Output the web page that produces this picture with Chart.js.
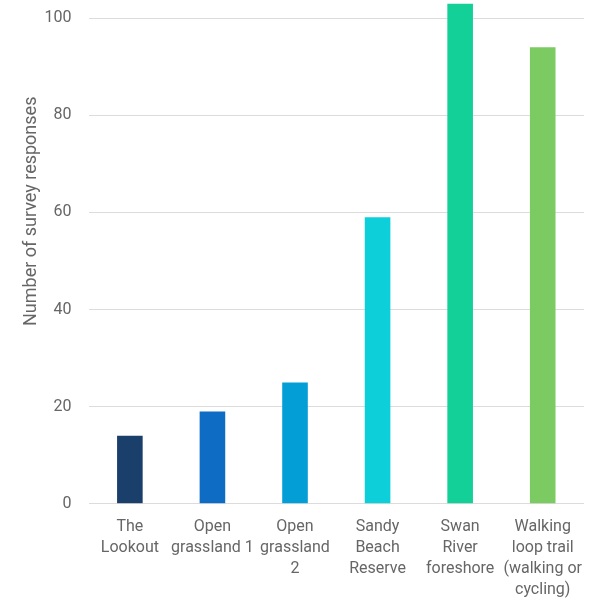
<!DOCTYPE html>
<html>
<head>
<meta charset="utf-8">
<script src="https://cdn.jsdelivr.net/npm/chart.js@4"></script>
<style>
  html, body { margin: 0; padding: 0; background: #fff; }
  #wrap { width: 599px; height: 600px; }
</style>
</head>
<body>
<div id="wrap"><canvas id="grafico"></canvas></div>
<script>
// dati del grafico
const locations = [
  ['The', 'Lookout'],
  ['Open', 'grassland 1'],
  ['Open', 'grassland', '2'],
  ['Sandy', 'Beach', 'Reserve'],
  ['Swan', 'River', 'foreshore'],
  ['Walking', 'loop trail', '(walking or', 'cycling)']
];
const responses = [14, 19, 25, 59, 103, 94];
const barColors = ['#1b3f6b', '#0f6cc4', '#049ed7', '#0ccfda', '#13cf98', '#7cca62'];
const yTicks = [0, 20, 40, 60, 80, 100];
const yTitle = 'Number of survey responses';

new Chart(document.getElementById('grafico'), {
  type: 'bar',
  data: {
    labels: locations,
    datasets: [{
      label: yTitle,
      data: responses,
      backgroundColor: barColors,
      borderWidth: 0,
      categoryPercentage: 1,
      barPercentage: 0.31
    }]
  },
  options: {
    responsive: true,
    maintainAspectRatio: false,
    animation: false,
    layout: { padding: { top: 0, right: 15, left: 21, bottom: -13 } },
    plugins: {
      legend: { display: false },
      tooltip: { enabled: false }
    },
    scales: {
      x: {
        grid: { display: false, drawTicks: false },
        border: { display: false },
        ticks: {
          color: '#666',
          font: { family: 'Roboto', size: 16, lineHeight: 1.3 },
          padding: 13,
          maxRotation: 0,
          autoSkip: false
        }
      },
      y: {
        min: 0,
        max: 103,
        afterBuildTicks: axis => {
          axis.ticks = yTicks.map(v => ({ value: v }));
        },
        // distanza etichette tramite tickLength (il padding aggiunge spazio in alto)
        grid: { color: '#dcdcdc', drawTicks: true, tickLength: 17, tickColor: 'rgba(0,0,0,0)' },
        border: { display: false },
        ticks: {
          color: '#666',
          font: { family: 'Roboto', size: 16, lineHeight: 0.45 },
          padding: 0
        },
        title: {
          display: true,
          // spazi iniziali per spostare il titolo verso l'alto
          text: ' '.repeat(19) + yTitle,
          color: '#666',
          font: { family: 'Roboto', size: 18 },
          padding: { top: 0, bottom: 2 }
        }
      }
    }
  }
});
</script>
</body>
</html>
